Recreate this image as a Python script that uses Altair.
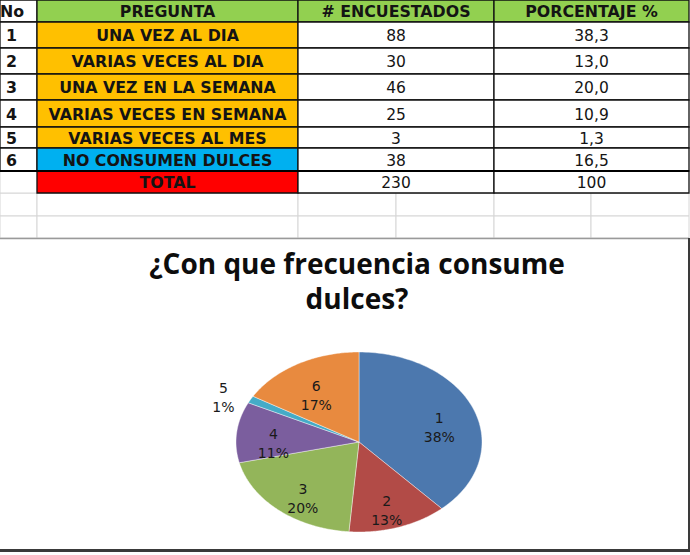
import altair as alt
import pandas as pd

# ---------------- data ----------------
numeros = ["1", "2", "3", "4", "5", "6"]
preguntas = ["UNA VEZ AL DIA", "VARIAS VECES AL DIA", "UNA VEZ EN LA SEMANA",
             "VARIAS VECES EN SEMANA", "VARIAS VECES AL MES", "NO CONSUMEN DULCES"]
encuestados = [88, 30, 46, 25, 3, 38]
porcentajes = ["38,3", "13,0", "20,0", "10,9", "1,3", "16,5"]
encabezados = ["No", "PREGUNTA", "# ENCUESTADOS", "PORCENTAJE %"]
total_label = "TOTAL"
total_encuestados = "230"
total_porcentaje = "100"
titulo = ["¿Con que frecuencia consume", "dulces?"]

# ---------------- layout / style ----------------
W, H = 690, 555
col_edges = [0, 37, 298, 494, 689]
row_edges = [0, 22, 48, 74, 100, 127, 148, 171, 193]
grid_cols = [0, 37, 298, 396, 494, 591, 689]
grid_rows = [193, 216, 238]
title_x, title_y0, title_dy = 357, 266, 35
cx, cy, rx, ry = 359, 442, 123, 90

verde = "#92D050"
naranja = "#FFC000"
celeste = "#00B0F0"
rojo = "#FF0000"
blanco = "#FFFFFF"
colores_pie = ["#4C78AE", "#B24B47", "#93B55A", "#7B5E9E", "#45ABC7", "#E88A3F"]

# ---------------- table cells ----------------
cells = []

def add(c, r, text, fill, bold, align):
    x0, x1 = col_edges[c], col_edges[c + 1]
    y0, y1 = row_edges[r], row_edges[r + 1]
    if align == "left":
        tx = x0 + (0 if r == 0 else 6)
    else:
        tx = (x0 + x1) / 2
    cells.append(dict(x0=x0, x1=x1, y0=y0, y1=y1, ty=(y0 + y1) / 2 + 1, tx=tx,
                      text=text, fill=fill, bold=bold, align=align))

add(0, 0, encabezados[0], blanco, True, "left")
for c in range(1, 4):
    add(c, 0, encabezados[c], verde, True, "center")
for i in range(6):
    r = i + 1
    add(0, r, numeros[i], blanco, True, "left")
    add(1, r, preguntas[i], celeste if i == 5 else naranja, True, "center")
    add(2, r, str(encuestados[i]), blanco, False, "center")
    add(3, r, porcentajes[i], blanco, False, "center")
add(1, 7, total_label, rojo, True, "center")
add(2, 7, total_encuestados, blanco, False, "center")
add(3, 7, total_porcentaje, blanco, False, "center")
df_cells = pd.DataFrame(cells)

grid = []
for j in range(len(grid_rows) - 1):
    for k in range(len(grid_cols) - 1):
        grid.append(dict(x0=grid_cols[k], x1=grid_cols[k + 1], y0=grid_rows[j], y1=grid_rows[j + 1]))
grid.append(dict(x0=0, x1=37, y0=171, y1=193))
df_grid = pd.DataFrame(grid)

rules = pd.DataFrame([
    dict(x0=0, x1=689, y0=171, y1=171, c="#000000", w=2.2),
    dict(x0=0, x1=689, y0=238.5, y1=238.5, c="#9A9A9A", w=1.5),
    dict(x0=689, x1=689, y0=238, y1=552, c="#3A3A3A", w=2),
    dict(x0=0, x1=690, y0=550.5, y1=550.5, c="#3A3A3A", w=3),
])

df_title = pd.DataFrame({"t": titulo,
                         "tx": [title_x] * len(titulo),
                         "ty": [title_y0 + title_dy * i for i in range(len(titulo))]})

xs_t = alt.Scale(domain=[0, W], nice=False, zero=False)
ys_t = alt.Scale(domain=[0, H], reverse=True, nice=False, zero=False)

grid_layer = alt.Chart(df_grid).mark_rect(fill="white", stroke="#D6D6D6", strokeWidth=1).encode(
    x=alt.X("x0:Q", scale=xs_t, axis=None), x2="x1:Q",
    y=alt.Y("y0:Q", scale=ys_t, axis=None), y2="y1:Q")

cell_layer = alt.Chart(df_cells).mark_rect(stroke="#111111", strokeWidth=1.3).encode(
    x=alt.X("x0:Q", scale=xs_t, axis=None), x2="x1:Q",
    y=alt.Y("y0:Q", scale=ys_t, axis=None), y2="y1:Q",
    fill=alt.Fill("fill:N", scale=None))

rule_layer = alt.Chart(rules).mark_rule().encode(
    x=alt.X("x0:Q", scale=xs_t, axis=None), x2="x1:Q",
    y=alt.Y("y0:Q", scale=ys_t, axis=None), y2="y1:Q",
    color=alt.Color("c:N", scale=None), strokeWidth=alt.StrokeWidth("w:Q", scale=None))

def text_layer(bold, align):
    return alt.Chart(df_cells).transform_filter(
        f"datum.bold == {'true' if bold else 'false'} && datum.align == '{align}'"
    ).mark_text(font="DejaVu Sans", fontSize=15.8 if bold else 15.5,
                fontWeight="bold" if bold else "normal",
                align=align, baseline="middle", color="#141414").encode(
        x=alt.X("tx:Q", scale=xs_t, axis=None),
        y=alt.Y("ty:Q", scale=ys_t, axis=None),
        text="text:N")

title_layer = alt.Chart(df_title).mark_text(
    font="Open Sans", fontSize=28, fontWeight="bold",
    align="center", baseline="middle", color="#0d0d0d").encode(
    x=alt.X("tx:Q", scale=xs_t, axis=None),
    y=alt.Y("ty:Q", scale=ys_t, axis=None),
    text="t:N")

table = alt.layer(grid_layer, cell_layer, rule_layer,
                  text_layer(True, "center"), text_layer(True, "left"),
                  text_layer(False, "center"), title_layer)

# ---------------- pie (elliptical, via scales) ----------------
df_pie = pd.DataFrame({"No": numeros, "n": encuestados, "ord": list(range(1, 7))})
N = 90
xs_p = alt.Scale(domain=[-cx / rx, (W - cx) / rx], nice=False, zero=False)
ys_p = alt.Scale(domain=[(cy - H) / ry, cy / ry], nice=False, zero=False)

base = alt.Chart(df_pie).transform_joinaggregate(
    total="sum(n)"
).transform_window(
    cum="sum(n)", sort=[alt.SortField("ord")], frame=[None, 0]
)

slices = base.transform_calculate(
    a0="2*PI*(datum.cum-datum.n)/datum.total",
    a1="2*PI*datum.cum/datum.total",
    pts=f"sequence(0, {N + 2})",
).transform_flatten(["pts"], as_=["i"]).transform_calculate(
    ang=f"datum.a0 + (datum.a1-datum.a0)*(datum.i-1)/{N}"
).transform_calculate(
    px="datum.i == 0 ? 0 : sin(datum.ang)",
    py="datum.i == 0 ? 0 : cos(datum.ang)",
).mark_line(filled=True, interpolate="linear-closed", stroke="white",
            strokeWidth=0.6, strokeOpacity=0.7).encode(
    x=alt.X("px:Q", scale=xs_p, axis=None),
    y=alt.Y("py:Q", scale=ys_p, axis=None),
    color=alt.Color("No:N", scale=alt.Scale(domain=numeros, range=colores_pie), legend=None),
    order=alt.Order("i:Q"),
)

labels = base.transform_calculate(
    mid="PI*(2*datum.cum - datum.n)/datum.total",
    frac="datum.n/datum.total",
).transform_calculate(
    kr="datum.frac < 0.05 ? 1.25 : 0.7"
).transform_calculate(
    lx="datum.kr*sin(datum.mid)",
    ly="datum.kr*cos(datum.mid)",
    label="[datum.No, format(datum.frac, '.0%')]",
).mark_text(font="DejaVu Sans", fontSize=14, lineHeight=19, align="center",
            baseline="middle", color="#1a1a1a").encode(
    x=alt.X("lx:Q", scale=xs_p, axis=None),
    y=alt.Y("ly:Q", scale=ys_p, axis=None),
    text="label:N",
)

pie = alt.layer(slices, labels)

chart = alt.layer(table, pie).resolve_scale(x="independent", y="independent").properties(
    width=W, height=H, padding=0, background="white",
    autosize=alt.AutoSizeParams(type="none"),
).configure_view(stroke=None)

chart.save("out.html", embed_options={"renderer": "svg", "actions": False})
